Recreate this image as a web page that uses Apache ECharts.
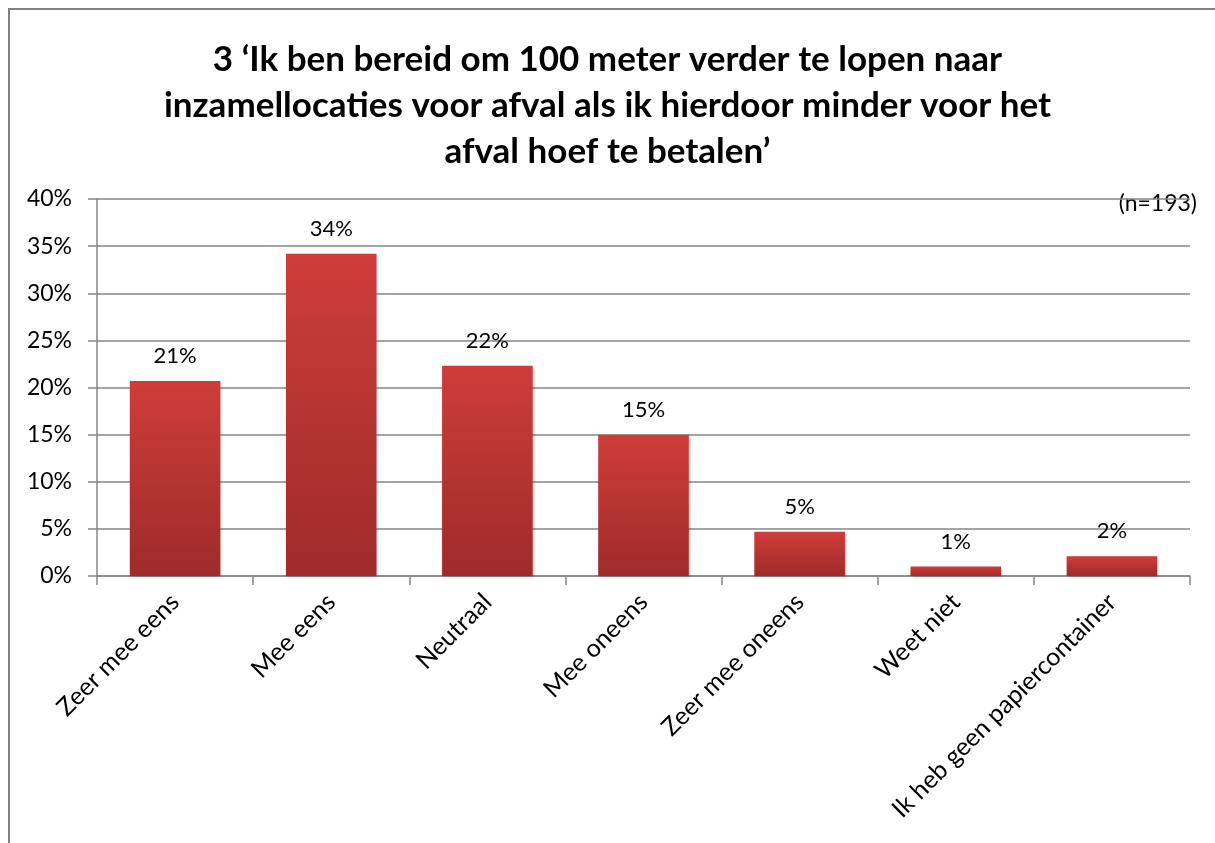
<!DOCTYPE html>
<html>
<head>
<meta charset="utf-8">
<script src="https://cdn.jsdelivr.net/npm/echarts@6/dist/echarts.min.js"></script>
<style>
  html, body { margin: 0; padding: 0; background: #fff; }
  #chart { width: 1215px; height: 843px; }
</style>
</head>
<body>
<div id="chart"></div>
<script>
const categories = ["Zeer mee eens", "Mee eens", "Neutraal", "Mee oneens", "Zeer mee oneens", "Weet niet", "Ik heb geen papiercontainer"];
const shares = [20.7, 34.2, 22.3, 15.0, 4.7, 1.0, 2.1];
const yTicks = [0, 5, 10, 15, 20, 25, 30, 35, 40];

const font = "Lato, 'Open Sans', sans-serif";

const chart = echarts.init(document.getElementById("chart"), null, { renderer: "canvas" });

chart.setOption({
  animation: false,
  backgroundColor: "#ffffff",
  title: {
    text: "3 \u2018Ik ben bereid om 100 meter verder te lopen naar\ninzamellocaties voor afval als ik hierdoor minder voor het\nafval hoef te betalen\u2019",
    left: "center",
    top: 32,
    textStyle: { fontFamily: font, fontSize: 35, fontWeight: "bold", color: "#000", lineHeight: 46 },
  },
  graphic: [
    {
      type: "rect",
      shape: { x: 9, y: 9, width: 1220, height: 850 },
      style: { fill: "none", stroke: "#808080", lineWidth: 2 },
      silent: true,
    },
    {
      type: "text",
      right: 18,
      top: 192,
      style: { text: "(n=193)", font: "23px " + font, fill: "#000" },
    },
  ],
  grid: { left: 97, right: 25, top: 199, bottom: 267 },
  xAxis: {
    type: "category",
    data: categories,
    axisLine: { lineStyle: { color: "#868686", width: 1.5 } },
    axisTick: { show: true, length: 9, lineStyle: { color: "#868686", width: 1.5 } },
    axisLabel: { rotate: 45, interval: 0, margin: 22, color: "#000", fontFamily: font, fontSize: 25 },
  },
  yAxis: {
    type: "value",
    min: yTicks[0],
    max: yTicks[yTicks.length - 1],
    interval: 5,
    axisLine: { show: true, lineStyle: { color: "#868686", width: 1.5 } },
    axisTick: { show: true, length: 9, lineStyle: { color: "#868686", width: 1.5 } },
    axisLabel: { margin: 25, color: "#000", fontFamily: font, fontSize: 23, formatter: (v) => v + "%" },
    splitLine: { lineStyle: { color: "#868686", width: 1.5 } },
  },
  series: [
    {
      type: "bar",
      data: shares,
      barWidth: "58%",
      itemStyle: {
        color: new echarts.graphic.LinearGradient(0, 0, 0, 1, [
          { offset: 0, color: "#ce3d3a" },
          { offset: 1, color: "#9e2b2a" },
        ]),
        shadowColor: "rgba(0,0,0,0.25)",
        shadowBlur: 3,
        shadowOffsetX: 1,
        shadowOffsetY: 1,
      },
      label: {
        show: true,
        position: "top",
        distance: 14,
        color: "#000",
        fontFamily: font,
        fontSize: 22,
        formatter: (p) => Math.round(p.value) + "%",
      },
    },
  ],
});
</script>
</body>
</html>
